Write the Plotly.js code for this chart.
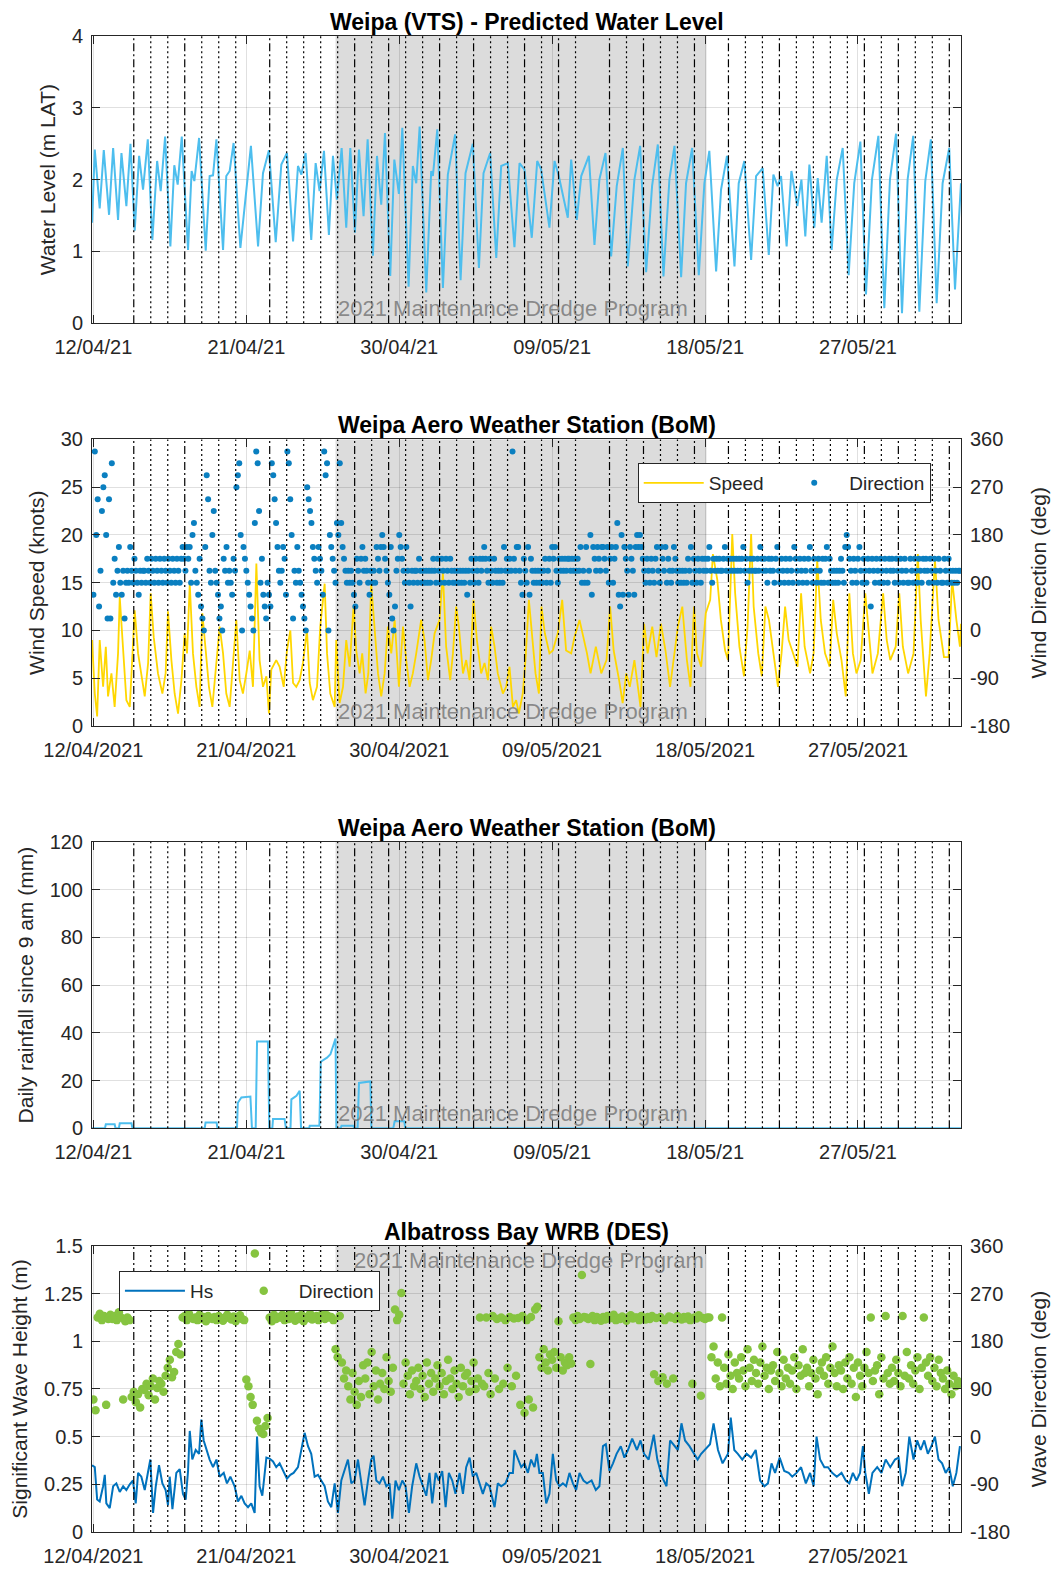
<!DOCTYPE html>
<html><head><meta charset="utf-8">
<script src="https://cdn.plot.ly/plotly-3.0.1.min.js"></script>
<style>html,body{margin:0;padding:0;background:#fff}#chart{width:1058px;height:1570px}</style>
</head><body><div id="chart"></div>
<script>
// ---------- DATA (days since 12/04/2021 00:00) ----------
const startDate = Date.UTC(2021, 3, 12);
const xRange = ['2021-04-11 22:00', '2021-06-02 01:30'];
const tickDates = ['2021-04-12', '2021-04-21', '2021-04-30', '2021-05-09', '2021-05-18', '2021-05-27'];
const tickShort = ['12/04/21', '21/04/21', '30/04/21', '09/05/21', '18/05/21', '27/05/21'];
const tickLong = ['12/04/2021', '21/04/2021', '30/04/2021', '09/05/2021', '18/05/2021', '27/05/2021'];
const dredgePeriod = ['2021-04-26 06:00', '2021-05-18 02:00'];
const dredgeLabel = '2021 Maintenance Dredge Program';
const dashedLines = ['2021-04-14 09:00','2021-04-17 09:00','2021-04-22 09:00','2021-04-27 09:00','2021-04-29 09:00','2021-05-02 09:00','2021-05-04 09:00','2021-05-07 09:00','2021-05-09 09:00','2021-05-12 09:00','2021-05-14 09:00','2021-05-17 09:00','2021-05-19 09:00','2021-05-22 09:00','2021-05-27 09:00','2021-05-29 09:00','2021-06-01 09:00'];
const dottedLines = ['2021-04-15 09:00','2021-04-16 09:00','2021-04-18 09:00','2021-04-19 09:00','2021-04-20 09:00','2021-04-23 09:00','2021-04-24 09:00','2021-04-25 09:00','2021-04-26 09:00','2021-04-28 09:00','2021-04-30 09:00','2021-05-01 09:00','2021-05-03 09:00','2021-05-05 09:00','2021-05-06 09:00','2021-05-08 09:00','2021-05-10 09:00','2021-05-13 09:00','2021-05-15 09:00','2021-05-16 09:00','2021-05-20 09:00','2021-05-21 09:00','2021-05-23 09:00','2021-05-24 09:00','2021-05-25 09:00','2021-05-26 09:00','2021-05-28 09:00','2021-05-30 09:00','2021-05-31 09:00'];

// Predicted water level (turning points)
const tideDay = [-0.08,0.08,0.37,0.61,0.92,1.16,1.45,1.65,1.94,2.18,2.43,2.69,2.92,3.20,3.47,3.75,3.96,4.22,4.53,4.76,4.96,5.20,5.57,5.78,5.94,6.22,6.61,6.84,7.04,7.24,7.63,7.82,8.02,8.25,8.65,9.27,9.69,9.98,10.33,10.73,11.06,11.39,11.75,12.04,12.24,12.49,12.82,13.08,13.31,13.57,13.86,14.10,14.33,14.61,14.88,15.12,15.39,15.63,15.90,16.14,16.45,16.69,16.94,17.16,17.47,17.71,17.98,18.18,18.55,18.80,19.00,19.20,19.59,19.88,19.98,20.24,20.57,20.86,21.29,21.61,21.90,22.33,22.69,22.96,23.35,23.71,24.00,24.39,24.78,25.08,25.37,25.80,26.12,26.35,26.84,27.14,27.39,27.92,28.12,28.45,28.71,29.16,29.49,29.78,30.14,30.47,30.80,31.16,31.45,31.84,32.18,32.53,32.88,33.22,33.55,33.90,34.20,34.59,34.88,35.24,35.63,35.96,36.25,36.65,36.94,37.29,37.73,37.98,38.31,38.71,39.00,39.39,39.75,40.02,40.27,40.47,40.80,41.08,41.43,41.67,41.90,42.14,42.43,42.63,42.86,43.16,43.45,43.75,44.10,44.45,44.78,45.14,45.47,45.82,46.20,46.55,46.88,47.24,47.59,47.92,48.25,48.61,48.96,49.29,49.63,49.98,50.37,50.71,51.06];
const tideLevel = [1.40,2.42,1.60,2.41,1.51,2.44,1.44,2.37,1.63,2.50,1.29,2.33,1.86,2.56,1.16,2.26,1.84,2.60,1.07,2.20,1.93,2.60,1.02,2.12,1.98,2.58,1.01,2.05,2.06,2.56,1.02,2.05,2.12,2.51,1.05,2.47,1.07,2.09,2.41,1.13,2.21,2.37,1.14,2.19,2.07,2.37,1.16,2.23,1.84,2.40,1.23,2.33,1.72,2.44,1.33,2.44,1.26,2.42,1.49,2.56,0.94,2.33,1.65,2.65,0.66,2.28,1.80,2.72,0.51,2.19,1.95,2.74,0.43,2.12,2.05,2.70,0.49,2.07,2.63,0.60,2.09,2.50,0.77,2.09,2.37,0.91,2.19,2.23,1.06,2.23,2.14,1.19,2.26,2.14,1.33,2.26,2.05,1.47,2.28,1.44,2.05,2.33,1.09,2.00,2.37,0.93,1.91,2.44,0.79,2.00,2.47,0.71,1.91,2.49,0.65,2.00,2.47,0.64,1.95,2.44,0.67,1.95,2.40,0.72,1.86,2.33,0.79,1.95,2.26,0.88,2.05,2.16,0.95,2.07,1.91,2.05,1.07,2.12,1.63,2.00,1.21,2.21,1.33,2.02,1.40,2.33,1.02,2.00,2.44,0.67,1.95,2.53,0.40,2.00,2.61,0.21,2.00,2.64,0.14,2.00,2.61,0.16,1.98,2.56,0.28,1.95,2.44,0.47,1.95];

// Wind speed (knots)
const windDay = [-0.08,0.08,0.22,0.37,0.57,0.73,0.86,1.06,1.25,1.45,1.55,1.71,1.94,2.14,2.29,2.43,2.63,2.82,3.02,3.22,3.37,3.55,3.80,4.06,4.25,4.39,4.59,4.78,4.98,5.18,5.37,5.51,5.67,5.86,6.06,6.25,6.41,6.61,6.80,7.00,7.24,7.43,7.63,7.82,8.02,8.27,8.41,8.61,8.80,9.00,9.20,9.39,9.59,9.78,9.98,10.18,10.33,10.47,10.76,10.96,11.20,11.39,11.59,11.75,11.94,12.14,12.33,12.57,12.73,12.92,13.16,13.35,13.61,13.75,13.94,14.20,14.29,14.49,14.69,14.88,15.08,15.31,15.47,15.67,15.82,16.02,16.18,16.35,16.55,16.75,16.94,17.14,17.33,17.53,17.73,17.98,18.22,18.41,18.61,18.80,19.00,19.29,19.49,19.69,19.88,20.08,20.37,20.57,20.76,21.00,21.16,21.35,21.51,21.75,21.94,22.14,22.37,22.57,22.82,23.02,23.22,23.41,23.61,23.80,24.10,24.29,24.49,24.69,24.88,25.04,25.27,25.43,25.63,25.82,26.02,26.22,26.37,26.57,26.84,27.04,27.33,27.59,27.82,28.12,28.31,28.61,29.05,29.26,29.57,29.89,30.20,30.41,30.62,30.94,31.15,31.36,31.57,31.84,32.20,32.41,32.62,32.89,33.14,33.40,33.67,33.94,34.19,34.40,34.66,34.93,35.14,35.35,35.52,35.77,36.04,36.30,36.46,36.72,36.93,37.18,37.35,37.60,37.77,38.02,38.29,38.50,38.71,38.86,39.13,39.34,39.55,39.76,39.97,40.29,40.50,40.71,40.92,41.17,41.44,41.65,41.86,42.18,42.39,42.60,42.81,43.06,43.33,43.54,43.75,44.03,44.28,44.49,44.70,44.91,45.16,45.43,45.64,45.85,46.17,46.48,46.69,46.90,47.22,47.43,47.64,47.95,48.27,48.52,48.69,49.00,49.22,49.53,49.74,50.06,50.33,50.54,50.79,51.00,51.06];
const windSpeed = [9.0,3.4,1.0,9.0,4.1,8.3,3.1,5.5,2.0,7.6,13.5,9.3,2.7,2.0,7.9,12.1,7.6,5.5,3.1,6.6,13.9,9.3,5.5,3.4,5.5,12.0,6.9,3.4,1.3,4.8,9.7,7.6,14.9,7.6,4.1,2.0,11.8,7.9,4.1,2.0,6.9,10.4,7.6,3.4,2.0,7.6,11.1,4.8,3.4,5.5,7.9,4.1,17.0,6.9,4.1,5.2,1.3,5.9,6.9,6.2,4.1,7.9,10.0,4.5,4.1,4.8,6.6,10.0,4.5,2.7,4.1,10.4,14.9,7.6,3.4,2.0,9.0,2.4,4.1,9.0,6.2,12.5,7.9,5.5,7.6,3.4,5.5,14.9,10.4,5.5,3.1,5.5,10.4,7.6,11.1,4.1,10.4,6.9,4.1,5.5,7.6,11.1,9.0,4.8,6.9,9.7,11.1,16.0,8.3,4.8,7.6,12.5,10.4,5.5,6.9,4.8,13.2,9.0,5.5,6.6,4.8,10.4,8.3,5.5,3.4,4.1,6.2,2.0,2.7,1.3,3.4,6.9,13.2,9.0,5.5,3.4,12.5,9.7,7.6,7.9,9.7,13.2,7.9,7.6,9.3,11.1,7.6,5.5,8.3,5.5,6.9,12.5,7.9,4.8,2.4,5.5,4.1,6.9,2.0,10.7,7.6,10.4,7.2,10.7,7.9,4.1,7.6,10.4,12.5,6.9,4.1,12.5,7.6,6.2,11.8,13.2,18.0,15.3,11.1,7.9,6.9,20.1,13.9,8.3,5.2,10.4,20.1,12.5,7.6,5.2,12.5,11.1,8.3,4.1,7.6,12.5,9.0,7.6,6.2,13.9,8.3,5.5,7.6,17.4,11.1,7.6,6.2,13.2,9.7,6.9,3.1,13.9,7.6,5.5,6.9,13.9,9.7,5.5,7.6,13.9,9.0,6.9,8.3,13.9,8.3,5.5,7.6,18.0,11.1,3.1,7.6,17.4,11.1,7.2,7.2,15.3,11.1,8.3,10.7];

// Wind direction (deg), 2-hourly from 12/04/2021 00:00
const windDirStepHours = 2;
const windDir = [
67.5,337.5,180,247.5,45,112.5,225,270,292.5,180,22.5,247.5,
22.5,315,90,135,67.5,112.5,157.5,90,67.5,112.5,22.5,90,
112.5,90,157.5,112.5,90,135,112.5,90,67.5,112.5,90,112.5,
112.5,90,135,112.5,90,135,112.5,90,135,112.5,90,135,
112.5,90,135,112.5,90,135,112.5,90,135,112.5,90,135,
112.5,90,135,157.5,135,112.5,157.5,135,157.5,90,180,202.5,
112.5,90,67.5,135,45,22.5,0,157.5,292.5,247.5,112.5,90,
180,225,112.5,90,67.5,22.5,45,0,135,112.5,157.5,90,
112.5,90,67.5,135,112.5,270,292.5,315,180,0,157.5,135,
112.5,90,67.5,45,22.5,0,202.5,337.5,315,225,90,135,
67.5,45,22.5,90,67.5,45,315,292.5,247.5,202.5,157.5,112.5,
90,112.5,157.5,135,67.5,337.5,315,247.5,180,22.5,112.5,90,
157.5,112.5,90,67.5,45,22.5,0,270,247.5,225,202.5,157.5,
135,112.5,90,157.5,135,112.5,67.5,337.5,292.5,315,0,180,
157.5,135,112.5,90,202.5,180,315,202.5,157.5,135,112.5,90,
112.5,90,112.5,90,67.5,45,135,112.5,90,135,157.5,112.5,
135,112.5,90,67.5,112.5,90,112.5,90,157.5,135,112.5,157.5,
180,157.5,135,112.5,90,67.5,157.5,22.5,0,45,112.5,135,
180,157.5,135,112.5,90,157.5,112.5,90,45,112.5,90,112.5,
112.5,90,135,112.5,90,112.5,90,112.5,90,112.5,90,112.5,
135,112.5,90,135,112.5,90,135,112.5,90,135,112.5,90,
135,112.5,90,112.5,90,112.5,90,112.5,90,112.5,90,112.5,
67.5,112.5,90,135,112.5,90,135,112.5,90,135,112.5,135,
157.5,135,112.5,90,135,112.5,90,135,112.5,90,112.5,90,
112.5,90,157.5,112.5,135,112.5,135,112.5,337.5,135,112.5,157.5,
157.5,112.5,90,67.5,135,112.5,90,157.5,67.5,135,112.5,90,
112.5,90,112.5,90,112.5,90,112.5,135,90,112.5,135,90,
157.5,135,157.5,112.5,90,135,112.5,135,112.5,135,112.5,135,
135,112.5,135,112.5,135,112.5,135,112.5,157.5,90,112.5,90,
157.5,90,112.5,180,67.5,157.5,135,112.5,157.5,135,112.5,157.5,
157.5,135,112.5,157.5,90,135,157.5,90,135,157.5,202.5,67.5,
45,180,67.5,157.5,135,112.5,67.5,157.5,135,112.5,67.5,157.5,
180,157.5,180,157.5,135,112.5,90,135,112.5,90,135,112.5,
90,135,157.5,112.5,90,157.5,135,112.5,157.5,90,135,112.5,
90,112.5,157.5,135,112.5,90,112.5,90,112.5,90,112.5,90,
135,112.5,157.5,90,135,112.5,90,135,112.5,90,135,112.5,
135,112.5,135,157.5,112.5,90,135,112.5,135,112.5,135,112.5,
112.5,135,157.5,112.5,135,112.5,135,112.5,135,112.5,135,112.5,
135,112.5,135,157.5,112.5,135,90,112.5,135,112.5,135,112.5,
112.5,135,112.5,157.5,135,112.5,135,112.5,90,135,112.5,135,
112.5,90,135,157.5,112.5,90,135,112.5,90,135,112.5,90,
135,112.5,90,157.5,135,112.5,90,135,112.5,90,135,112.5,
90,135,157.5,112.5,90,135,112.5,90,135,112.5,90,135,
90,135,157.5,90,135,112.5,90,112.5,90,112.5,90,112.5,
135,112.5,90,157.5,180,157.5,135,112.5,90,135,112.5,90,
135,157.5,112.5,90,135,112.5,90,135,112.5,45,135,112.5,
90,135,112.5,90,135,112.5,90,135,112.5,90,135,112.5,
135,112.5,90,135,112.5,90,135,112.5,90,135,112.5,90,
90,135,112.5,90,135,112.5,90,135,112.5,90,135,112.5,
135,112.5,90,135,112.5,90,135,112.5,90,135,112.5,90,
90,135,112.5,90,135,112.5,90,112.5,90,112.5,90,112.5,
112.5];

// Daily rainfall since 9 am (mm)
const rainDay = [-0.08,0.68,0.73,1.25,1.30,1.50,1.55,2.24,2.30,6.55,6.60,7.25,7.30,8.45,8.50,8.71,9.24,9.33,9.55,9.63,10.27,10.35,10.53,10.57,11.25,11.33,11.60,11.65,11.95,12.14,12.22,12.70,12.73,13.30,13.38,13.75,13.95,14.10,14.25,14.30,14.55,14.60,15.30,15.35,15.55,15.63,16.30,16.36,17.65,17.73,18.30,18.35,51.06];
const rainMm  = [0,0,1.7,1.7,0,0,2.1,2.1,0,0,2.4,2.4,0,0,10.7,12.9,13.3,0,0,36.4,36.4,0,0,3.9,3.9,0,0,12.1,13.6,15.7,0,0,1.0,1.0,27.9,29.6,31.0,34.3,37.6,0,0,1.0,1.0,0,0,19.0,19.6,0,0,2.9,2.9,0,0];

// Significant wave height (m)
const hsDay = [-0.08,0.08,0.22,0.37,0.57,0.67,0.76,0.96,1.16,1.35,1.55,1.75,1.94,2.14,2.33,2.49,2.63,2.82,3.02,3.22,3.35,3.51,3.67,3.86,4.06,4.25,4.39,4.49,4.65,4.88,5.08,5.27,5.43,5.57,5.67,5.82,6.02,6.22,6.35,6.49,6.65,6.84,7.04,7.24,7.43,7.67,7.86,8.06,8.31,8.51,8.71,8.90,9.10,9.29,9.49,9.63,9.78,9.94,10.18,10.37,10.57,10.76,10.96,11.20,11.39,11.59,11.78,12.04,12.24,12.43,12.63,12.82,13.02,13.22,13.41,13.61,13.80,14.00,14.20,14.39,14.59,14.78,14.98,15.18,15.37,15.57,15.76,15.96,16.16,16.35,16.49,16.65,16.84,17.04,17.24,17.43,17.59,17.78,17.98,18.18,18.37,18.57,18.76,19.00,19.20,19.39,19.59,19.78,19.94,20.14,20.33,20.53,20.73,20.92,21.12,21.31,21.55,21.75,21.94,22.14,22.33,22.53,22.73,22.92,23.12,23.31,23.61,23.80,24.00,24.25,24.49,24.69,24.78,24.98,25.18,25.37,25.57,25.76,25.96,26.10,26.25,26.45,26.65,26.84,27.04,27.24,27.43,27.63,27.82,28.02,28.22,28.41,28.61,28.84,29.05,29.32,29.57,29.78,29.99,30.16,30.37,30.58,30.79,31.04,31.25,31.46,31.71,31.99,32.20,32.41,32.68,32.98,33.19,33.46,33.73,33.94,34.19,34.40,34.61,34.82,35.08,35.35,35.56,35.77,35.98,36.29,36.50,36.76,37.03,37.35,37.51,37.72,37.93,38.19,38.44,38.71,38.98,39.24,39.49,39.70,39.91,40.12,40.39,40.66,40.92,41.13,41.38,41.65,41.93,42.18,42.39,42.56,42.77,43.02,43.23,43.48,43.75,44.03,44.28,44.49,44.70,44.91,45.12,45.29,45.43,45.64,45.85,46.13,46.38,46.63,46.90,47.18,47.39,47.60,47.81,48.02,48.27,48.48,48.69,48.90,49.11,49.32,49.53,49.74,49.95,50.16,50.37,50.58,50.79,51.00];
const hsValue = [0.35,0.34,0.17,0.16,0.24,0.30,0.15,0.125,0.24,0.255,0.21,0.24,0.22,0.25,0.27,0.15,0.31,0.29,0.22,0.31,0.38,0.10,0.24,0.35,0.255,0.22,0.14,0.29,0.12,0.31,0.33,0.20,0.17,0.32,0.53,0.38,0.43,0.41,0.59,0.48,0.43,0.38,0.34,0.38,0.29,0.31,0.255,0.29,0.24,0.16,0.19,0.15,0.13,0.15,0.10,0.50,0.24,0.19,0.39,0.385,0.37,0.34,0.36,0.31,0.28,0.30,0.31,0.34,0.43,0.52,0.45,0.41,0.29,0.30,0.27,0.24,0.16,0.13,0.255,0.10,0.27,0.32,0.38,0.255,0.27,0.38,0.255,0.14,0.27,0.38,0.40,0.27,0.255,0.29,0.24,0.255,0.07,0.27,0.22,0.27,0.24,0.10,0.24,0.36,0.29,0.24,0.19,0.31,0.15,0.31,0.27,0.32,0.13,0.31,0.27,0.20,0.31,0.20,0.34,0.39,0.29,0.31,0.255,0.20,0.255,0.24,0.13,0.255,0.24,0.255,0.31,0.31,0.43,0.38,0.34,0.36,0.31,0.38,0.34,0.41,0.31,0.31,0.15,0.20,0.41,0.27,0.24,0.255,0.24,0.31,0.255,0.22,0.31,0.27,0.255,0.27,0.22,0.24,0.45,0.46,0.32,0.36,0.41,0.45,0.39,0.43,0.49,0.43,0.48,0.41,0.38,0.51,0.38,0.29,0.24,0.48,0.45,0.43,0.57,0.48,0.45,0.41,0.38,0.41,0.43,0.46,0.57,0.43,0.36,0.41,0.60,0.43,0.41,0.38,0.41,0.39,0.43,0.27,0.24,0.255,0.36,0.31,0.39,0.32,0.31,0.29,0.31,0.34,0.255,0.31,0.24,0.50,0.38,0.34,0.34,0.31,0.29,0.31,0.27,0.255,0.31,0.27,0.31,0.45,0.31,0.20,0.31,0.34,0.31,0.38,0.34,0.38,0.39,0.24,0.31,0.50,0.38,0.48,0.43,0.48,0.41,0.45,0.50,0.38,0.36,0.31,0.34,0.24,0.31,0.45];

// Wave direction (deg), 3-hourly from 12/04/2021 00:00
const waveDirStepHours = 3;
const waveDir = [
70,50,225,232,220,228,60,222,
230,222,228,220,235,225,70,218,
225,220,75,85,65,80,55,90,
88,100,78,95,110,70,92,105,
100,85,115,130,145,112,122,160,
175,155,225,228,220,232,225,222,
225,220,230,222,226,218,228,224,
222,226,220,228,224,219,225,230,
224,221,227,218,225,229,222,220,
108,95,75,60,346,30,15,8,
5,20,35,225,218,230,222,226,
225,230,220,228,222,236,224,219,
227,222,230,218,226,224,232,221,
224,228,220,226,235,222,229,225,
226,220,165,150,228,140,110,125,
95,70,120,85,60,105,75,135,
110,140,80,160,95,125,70,100,
120,90,150,105,85,130,240,220,
230,271,100,140,115,80,125,95,
105,130,90,115,75,140,100,120,
85,110,135,95,120,80,105,145,
110,90,125,100,75,130,95,115,
120,85,105,140,90,110,225,100,
95,225,120,80,228,110,222,90,
225,100,220,130,226,95,223,115,
224,60,228,45,220,70,226,55,
240,245,150,130,165,140,125,155,
145,160,130,218,150,125,140,135,
150,138,225,220,228,222,305,226,
225,222,137,228,220,226,224,219,
226,221,228,223,225,230,220,224,
222,227,224,219,226,229,223,225,
225,220,228,224,221,226,222,228,
118,224,105,226,112,220,100,227,
225,110,222,228,224,221,226,223,
227,220,100,225,223,229,77,224,
222,225,225,150,170,110,140,95,
225,130,100,155,115,90,140,120,
110,150,125,95,165,130,105,145,
120,100,140,170,115,130,90,125,
135,105,160,120,95,145,110,130,
100,125,150,90,135,115,165,120,
130,95,120,145,110,80,125,140,
115,150,100,130,170,120,95,135,
125,90,140,110,150,100,130,75,
140,115,95,130,160,120,225,105,
125,135,80,150,110,228,120,100,
130,105,145,120,95,228,115,160,
110,135,100,125,150,90,130,225,
140,115,150,105,130,95,145,120,
110,90,125,100,80,115,95,105,
100];

// ---------- BUILD ----------
const toT = d => startDate + d * 864e5;
const stepTimes = (n, h) => Array.from({length: n}, (_, i) => startDate + i * h * 3600e3);

const AX = '#262626';
const GRID = 'rgba(0,0,0,0.12)';
const FONT = 'Liberation Sans, Arial, sans-serif';
const NBSP = '\u00a0';

function xAx(anchor, labels) {
  return {type: 'date', range: xRange, anchor: anchor, tickmode: 'array', tickvals: tickDates, ticktext: labels,
    ticks: 'inside', ticklen: 8, tickcolor: AX, showline: true, linecolor: AX, linewidth: 1, mirror: 'ticks',
    showgrid: true, gridcolor: GRID, gridwidth: 1, zeroline: false, tickfont: {size: 20, color: AX}, ticklabelstandoff: 6};
}
function yAx(anchor, domain, range, title, extra) {
  return Object.assign({anchor: anchor, domain: domain, range: range, ticks: 'inside', ticklen: 8, tickcolor: AX,
    showline: true, linecolor: AX, linewidth: 1, mirror: 'ticks', showgrid: true, gridcolor: GRID, zeroline: false,
    tickfont: {size: 20, color: AX}, ticklabelstandoff: 4,
    title: {text: title, font: {size: 21, color: AX}, standoff: 10}}, extra || {});
}
function rAx(over, anchor, title) {
  return {overlaying: over, anchor: anchor, side: 'right', range: [-180, 360], tickmode: 'array',
    tickvals: [-180, -90, 0, 90, 180, 270, 360], ticktext: ['-180', '-90', '0', '90', '180', '270', '360'],
    ticks: 'inside', ticklen: 8, tickcolor: AX, showline: true,
    linecolor: AX, showgrid: false, zeroline: false, tickfont: {size: 20, color: AX}, ticklabelstandoff: 4,
    title: {text: title, font: {size: 21, color: AX}, standoff: 22}};
}

const traces = [
  {x: tideDay.map(toT), y: tideLevel, xaxis: 'x', yaxis: 'y', mode: 'lines', line: {color: '#4dbeee', width: 2}, showlegend: false},
  {x: windDay.map(toT), y: windSpeed, xaxis: 'x2', yaxis: 'y2', mode: 'lines', line: {color: '#ffd700', width: 1.8}, name: 'Speed' + NBSP + NBSP, legend: 'legend'},
  {x: stepTimes(windDir.length, windDirStepHours), y: windDir, xaxis: 'x2', yaxis: 'y5', mode: 'markers', marker: {color: '#0a7fc0', size: 6}, name: 'Direction', legend: 'legend'},
  {x: rainDay.map(toT), y: rainMm, xaxis: 'x3', yaxis: 'y3', mode: 'lines', line: {color: '#4dbeee', width: 2}, showlegend: false},
  {x: hsDay.map(toT), y: hsValue, xaxis: 'x4', yaxis: 'y4', mode: 'lines', line: {color: '#0072bd', width: 2}, name: 'Hs' + NBSP + NBSP, legend: 'legend2'},
  {x: stepTimes(waveDir.length, waveDirStepHours), y: waveDir, xaxis: 'x4', yaxis: 'y6', mode: 'markers', marker: {color: '#86c440', size: 8.5}, name: 'Direction', legend: 'legend2'}
];

const panels = [['x', 'y'], ['x2', 'y2'], ['x3', 'y3'], ['x4', 'y4']];
const shapes = [];
panels.forEach(([xr, yr]) => {
  shapes.push({type: 'rect', xref: xr, yref: yr + ' domain', x0: dredgePeriod[0], x1: dredgePeriod[1], y0: 0, y1: 1,
    fillcolor: '#dcdcdc', line: {width: 0}, layer: 'below'});
});
panels.forEach(([xr, yr]) => {
  dottedLines.forEach(d => shapes.push({type: 'line', xref: xr, yref: yr + ' domain', x0: d, x1: d, y0: 0, y1: 1,
    line: {color: '#000', width: 1.2, dash: '2px,3px'}, layer: 'above'}));
  dashedLines.forEach(d => shapes.push({type: 'line', xref: xr, yref: yr + ' domain', x0: d, x1: d, y0: 0, y1: 1,
    line: {color: '#000', width: 1.2, dash: '8px,3px,2px,3px'}, layer: 'above'}));
});

const titles = ['Weipa (VTS) - Predicted Water Level', 'Weipa Aero Weather Station (BoM)', 'Weipa Aero Weather Station (BoM)', 'Albatross Bay WRB (DES)'];
const annotations = titles.map((t, i) => ({text: '<b>' + t + '</b>', xref: 'paper', x: 0.5, yref: panels[i][1] + ' domain', y: 1,
  xanchor: 'center', yanchor: 'bottom', yshift: -1, showarrow: false, font: {size: 23, color: '#000'}}));
[0, 1, 2].forEach(i => annotations.push({text: dredgeLabel, xref: panels[i][0], x: dredgePeriod[0], yref: panels[i][1] + ' domain', y: 0,
  xanchor: 'left', yanchor: 'bottom', showarrow: false, font: {size: 22, color: 'rgba(110,110,110,0.75)'}}));
annotations.push({text: dredgeLabel, xref: 'x4', x: dredgePeriod[1], yref: 'y4 domain', y: 1,
  xanchor: 'right', yanchor: 'top', showarrow: false, font: {size: 22, color: 'rgba(110,110,110,0.75)'}});

const legendBase = {orientation: 'h', xanchor: 'left', yanchor: 'top', bgcolor: '#fff', bordercolor: AX, borderwidth: 1,
  font: {size: 19, color: AX}, itemwidth: 60, traceorder: 'normal'};

const layout = {
  width: 1058, height: 1570, margin: {l: 92, r: 97, t: 36, b: 38},
  paper_bgcolor: '#fff', plot_bgcolor: '#fff', font: {family: FONT, size: 20, color: AX},
  xaxis: xAx('y', tickShort), xaxis2: xAx('y2', tickLong), xaxis3: xAx('y3', tickShort), xaxis4: xAx('y4', tickLong),
  yaxis: yAx('x', [0.808, 1.0], [0, 4], 'Water Level (m LAT)', {dtick: 1}),
  yaxis2: yAx('x2', [0.5388, 0.7303], [0, 30], 'Wind Speed (knots)', {dtick: 5, mirror: true}),
  yaxis3: yAx('x3', [0.2699, 0.4612], [0, 120], 'Daily rainfall since 9 am (mm)', {dtick: 20}),
  yaxis4: yAx('x4', [0.0, 0.1912], [0, 1.5], 'Significant Wave Height (m)', {tickmode: 'array',
    tickvals: [0, 0.25, 0.5, 0.75, 1, 1.25, 1.5], ticktext: ['0', '0.25', '0.5', '0.75', '1', '1.25', '1.5'], mirror: true}),
  yaxis5: rAx('y2', 'x2', 'Wind Direction (deg)'),
  yaxis6: rAx('y4', 'x4', 'Wave Direction (deg)'),
  showlegend: true,
  legend: Object.assign({}, legendBase, {x: 0.628, y: 0.7146}),
  legend2: Object.assign({}, legendBase, {x: 0.031, y: 0.1745}),
  shapes: shapes, annotations: annotations
};

Plotly.newPlot('chart', traces, layout, {displayModeBar: false, responsive: false});
</script></body></html>
